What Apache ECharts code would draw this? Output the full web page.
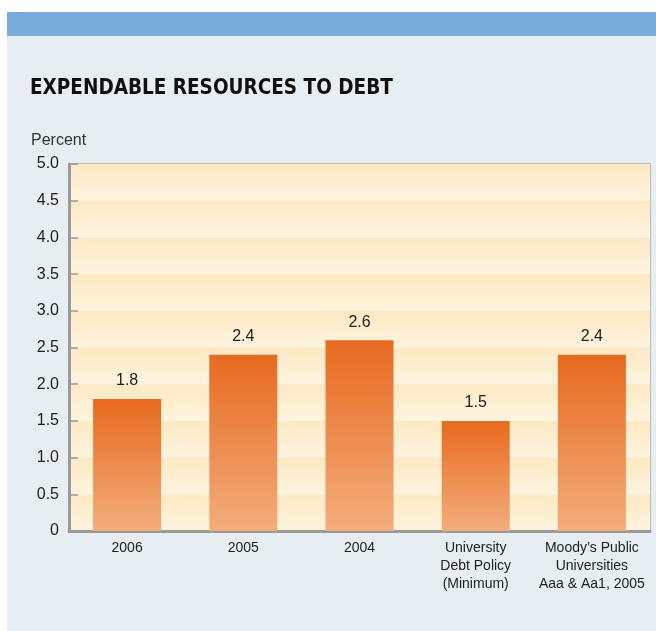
<!DOCTYPE html>
<html>
<head>
<meta charset="utf-8">
<script src="https://cdn.jsdelivr.net/npm/echarts@6/dist/echarts.min.js"></script>
<style>
    html, body { margin: 0; padding: 0; background: #fff; }
    #chart { width: 656px; height: 631px; }
</style>
</head>
<body>
<div id="chart"></div>
<script>
const categories = ['2006', '2005', '2004', 'University\nDebt Policy\n(Minimum)', 'Moody\u2019s Public\nUniversities\nAaa & Aa1, 2005']
const values = [1.8, 2.4, 2.6, 1.5, 2.4]
const yTicks = [0, 0.5, 1.0, 1.5, 2.0, 2.5, 3.0, 3.5, 4.0, 4.5, 5.0]

const chart = echarts.init(document.getElementById('chart'))

const FONT = "'Liberation Sans', Arial, sans-serif"

// each 0.5 band fades from a deeper cream at the top to a paler one below
const bandFill = new echarts.graphic.LinearGradient(0, 0, 0, 1, [
    { offset: 0, color: '#fde9c3' },
    { offset: 1, color: '#fef4df' }
])

const option = {
    backgroundColor: '#fff',
    graphic: [
        { type: 'rect', left: 7, top: 36, shape: { width: 649, height: 595 }, style: { fill: '#e6eef2' }, z: -10 },
        { type: 'rect', left: 7, top: 12, shape: { width: 649, height: 24 }, style: { fill: '#78acdb' }, z: -10 }
    ],
    title: [
        {
            text: 'EXPENDABLE RESOURCES TO DEBT',
            left: 25,
            top: 73,
            textStyle: { fontFamily: "'DejaVu Sans Condensed', 'Liberation Sans', sans-serif", fontWeight: 'bold', fontSize: 20.5, color: '#111' }
        },
        {
            text: 'Percent',
            left: 26,
            top: 128,
            textStyle: { fontFamily: FONT, fontWeight: 'normal', fontSize: 16, color: '#333' }
        }
    ],
    grid: {
        left: 69,
        right: 6,
        top: 164,
        bottom: 100,
        show: true,
        borderColor: '#aaa',
        borderWidth: 1.5
    },
    xAxis: {
        type: 'category',
        data: categories,
        axisLine: { lineStyle: { color: '#9a9a9a', width: 3 } },
        axisTick: { show: false },
        axisLabel: {
            color: '#222',
            fontFamily: FONT,
            fontSize: 14,
            lineHeight: 18,
            margin: 8,
            interval: 0
        }
    },
    yAxis: {
        type: 'value',
        min: 0,
        max: 5,
        interval: 0.5,
        axisLine: { show: true, lineStyle: { color: '#9a9a9a', width: 3 } },
        axisTick: { show: true, inside: true, length: 9, lineStyle: { color: '#999', width: 1.5 } },
        splitLine: { show: false },
        splitArea: { show: true, areaStyle: { color: [bandFill] } },
        axisLabel: {
            color: '#222',
            fontFamily: FONT,
            fontSize: 16,
            margin: 10,
            formatter: v => (v === 0 ? '0' : v.toFixed(1))
        }
    },
    series: [
        {
            type: 'bar',
            data: values,
            barWidth: 68,
            itemStyle: {
                color: new echarts.graphic.LinearGradient(0, 0, 0, 1, [
                    { offset: 0, color: '#e86a1f' },
                    { offset: 1, color: '#f3ad7c' }
                ])
            },
            label: {
                show: true,
                position: 'top',
                distance: 10,
                color: '#222',
                fontFamily: FONT,
                fontSize: 16,
                formatter: p => p.value.toFixed(1)
            }
        }
    ]
}

chart.setOption(option)
</script>
</body>
</html>
